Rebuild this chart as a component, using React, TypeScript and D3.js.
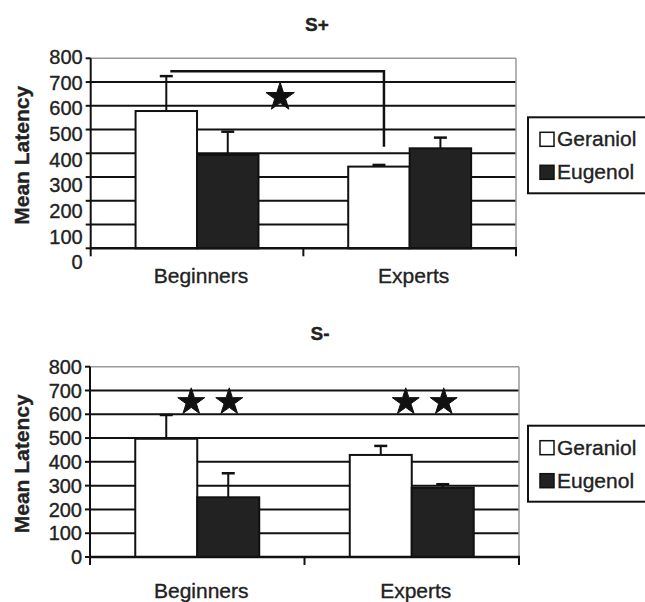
import React from "react";
import * as d3 from "d3";

const categories = ["Beginners", "Experts"];
const seriesNames = ["Geraniol", "Eugenol"];
const yTicks = [0, 100, 200, 300, 400, 500, 600, 700, 800];

// S+ panel
const sPlusGeraniol = [578, 344];
const sPlusGeraniolErr = [147, 7];
const sPlusEugenol = [393, 421];
const sPlusEugenolErr = [98, 45];
const sPlusBracketLevel = 745;
const sPlusBracketEnd = 428;
const sPlusStarLevel = 645;

// S- panel
const sMinusGeraniol = [497, 429];
const sMinusGeraniolErr = [100, 38];
const sMinusEugenol = [251, 291];
const sMinusEugenolErr = [101, 15];
const sMinusStarLevel = 660;

const FONT = "'Liberation Sans', Arial, Helvetica, sans-serif";
const fills = ["#ffffff", "#222222"];

type PanelProps = {
  title: string;
  top: number;
  bottom: number;
  left: number;
  right: number;
  means: number[][];
  errs: number[][];
  labelTop: number;
  labelBottom: number;
  xLabelOffset: number;
  titleX: number;
  titleY: number;
  bracket?: { level: number; end: number; star: number };
  starPairs?: number;
};

function Panel(p: PanelProps) {
  const y = d3.scaleLinear().domain([0, 800]).range([p.bottom, p.top]);
  const yLab = d3.scaleLinear().domain([0, 800]).range([p.labelBottom, p.labelTop]);
  const x0 = d3.scaleBand<string>().domain(categories).range([p.left, p.right]).padding(0);
  const x1 = d3
    .scaleBand<string>()
    .domain(seriesNames)
    .range([0, x0.bandwidth()])
    .paddingInner(0)
    .paddingOuter(0.73);
  const star = d3.symbol().type(d3.symbolStar);
  const bw = x1.bandwidth();
  const legTop = p.top + 59;
  const txt = { fill: "#222", stroke: "#222", strokeWidth: 0.35 };

  return (
    <g fontFamily={FONT}>
      <text x={p.titleX} y={p.titleY} textAnchor="middle" fontWeight="bold" fontSize={19} {...txt}>
        {p.title}
      </text>
      {/* gridlines */}
      {yTicks
        .filter((t) => t > 0 && t < 800)
        .map((t) => (
          <line key={"g" + t} x1={p.left} x2={p.right} y1={y(t)} y2={y(t)} stroke="#111" strokeWidth={2} />
        ))}
      {/* frame top/right */}
      <line x1={p.left} x2={p.right} y1={y(800)} y2={y(800)} stroke="#999" strokeWidth={1.5} />
      <line x1={p.right} x2={p.right} y1={y(800)} y2={y(0)} stroke="#999" strokeWidth={1.5} />
      {/* bars */}
      {categories.map((c, ci) =>
        seriesNames.map((s, si) => {
          const bx = (x0(c) as number) + (x1(s) as number);
          const v = p.means[si][ci];
          const e = p.errs[si][ci];
          const cx = bx + bw / 2;
          return (
            <g key={c + s}>
              <line x1={cx} x2={cx} y1={y(v)} y2={y(v + e)} stroke="#111" strokeWidth={2} />
              <line x1={cx - 6.5} x2={cx + 6.5} y1={y(v + e)} y2={y(v + e)} stroke="#111" strokeWidth={2.5} />
              <rect x={bx} y={y(v)} width={bw} height={y(0) - y(v)} fill={fills[si]} stroke="#111" strokeWidth={2} />
            </g>
          );
        })
      )}
      {/* axes */}
      <line x1={p.left} x2={p.left} y1={y(800)} y2={y(0) + 1} stroke="#111" strokeWidth={2} />
      <line x1={p.left} x2={p.right + 1} y1={y(0)} y2={y(0)} stroke="#111" strokeWidth={2.5} />
      {yTicks.map((t) => (
        <g key={"t" + t}>
          <line x1={p.left - 5} x2={p.left} y1={y(t)} y2={y(t)} stroke="#111" strokeWidth={2} />
          <text x={p.left - 8} y={yLab(t)} dy="0.36em" textAnchor="end" fontSize={20} {...txt}>
            {t}
          </text>
        </g>
      ))}
      {[p.left, ...categories.slice(1).map((c) => x0(c) as number), p.right].map((tx, i) => (
        <line key={"xt" + i} x1={tx} x2={tx} y1={y(0)} y2={y(0) + 8} stroke="#111" strokeWidth={2} />
      ))}
      {categories.map((c) => (
        <text
          key={"xl" + c}
          x={(x0(c) as number) + x0.bandwidth() / 2 + 4}
          y={y(0) + p.xLabelOffset}
          textAnchor="middle"
          fontSize={21}
          {...txt}
        >
          {c}
        </text>
      ))}
      <text
        transform={`translate(29,${(y(0) + y(800)) / 2 + 2}) rotate(-90)`}
        textAnchor="middle"
        fontWeight="bold"
        fontSize={21}
        {...txt}
      >
        Mean Latency
      </text>
      {/* significance */}
      {p.bracket &&
        (() => {
          const xa = (x0(categories[0]) as number) + (x1(seriesNames[0]) as number) + bw / 2 + 4;
          const xb = (x0(categories[1]) as number) + (x1(seriesNames[0]) as number) + bw / 2 + 5;
          return (
            <g>
              <path
                d={`M${xa},${y(p.bracket.level)}H${xb}V${y(p.bracket.end)}`}
                fill="none"
                stroke="#111"
                strokeWidth={2.5}
              />
              <path
                transform={`translate(${(xa + xb) / 2 + 3},${y(p.bracket.star) + 2})`}
                d={star.size(250)() as string}
                fill="#111"
                stroke="#111"
                strokeWidth={1}
                strokeLinejoin="round"
              />
            </g>
          );
        })()}
      {p.starPairs !== undefined &&
        categories.map((c) => {
          const cx = (x0(c) as number) + x0.bandwidth() / 2 + 13;
          return [-19, 19].map((dx) => (
            <path
              key={c + dx}
              transform={`translate(${cx + dx},${y(p.starPairs as number) + 2})`}
              d={star.size(225)() as string}
              fill="#111"
              stroke="#111"
              strokeWidth={1}
              strokeLinejoin="round"
            />
          ));
        })}
      {/* legend */}
      <rect x={528} y={legTop} width={130} height={76} fill="#fff" stroke="#111" strokeWidth={2} />
      {seriesNames.map((s, i) => (
        <g key={"lg" + s}>
          <rect x={540} y={legTop + 15 + i * 33} width={14} height={14} fill={fills[i]} stroke="#111" strokeWidth={1.5} />
          <text x={557} y={legTop + 29 + i * 33} fontSize={21} {...txt}>
            {s}
          </text>
        </g>
      ))}
    </g>
  );
}

export default function App() {
  return (
    <svg width={645} height={602} style={{ position: "absolute", left: 0, top: 0, background: "#fff" }}>
      <rect width={645} height={602} fill="#fff" />
      <Panel
        title="S+"
        top={58.3}
        bottom={248.3}
        left={90.7}
        right={516}
        means={[sPlusGeraniol, sPlusEugenol]}
        errs={[sPlusGeraniolErr, sPlusEugenolErr]}
        labelTop={57}
        labelBottom={262}
        xLabelOffset={35}
        titleX={317}
        titleY={31}
        bracket={{ level: sPlusBracketLevel, end: sPlusBracketEnd, star: sPlusStarLevel }}
      />
      <Panel
        title="S-"
        top={366.7}
        bottom={557}
        left={90}
        right={519}
        means={[sMinusGeraniol, sMinusEugenol]}
        errs={[sMinusGeraniolErr, sMinusEugenolErr]}
        labelTop={366.7}
        labelBottom={557}
        xLabelOffset={41}
        titleX={320}
        titleY={340}
        starPairs={sMinusStarLevel}
      />
    </svg>
  );
}
